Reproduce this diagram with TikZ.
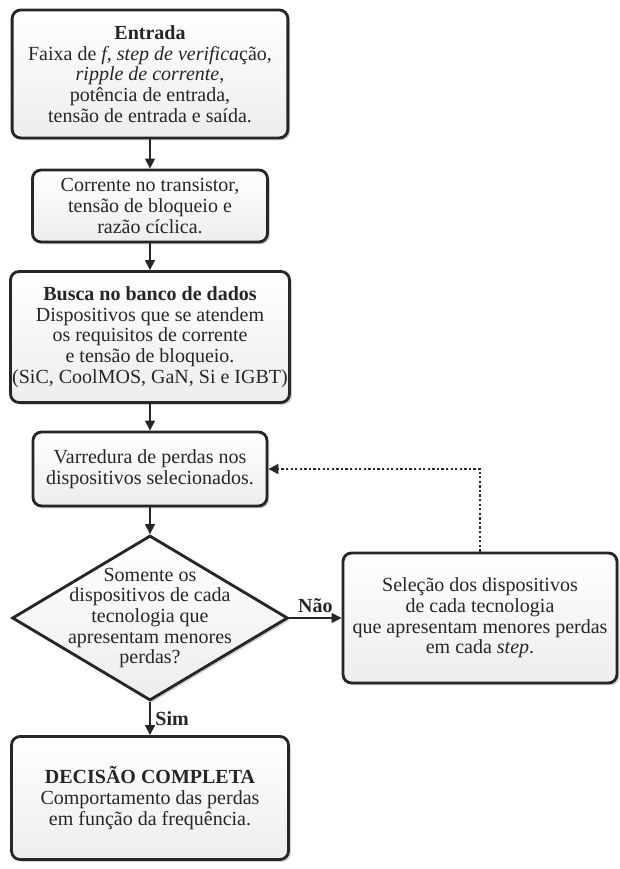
\documentclass[tikz,border=0pt]{standalone}
\usepackage{fontspec}
\setmainfont{Liberation Serif}
\usepackage{xcolor}
\usetikzlibrary{shapes.geometric,arrows.meta,shadows}

\begin{document}
\begin{tikzpicture}[x=0.7pt,y=-0.7pt,
        sombra/.style={drop shadow={shadow xshift=1.6pt,shadow yshift=-1.6pt,opacity=0.35}},
        caixa/.style={draw=black!85,line width=2pt,rounded corners=6pt,top color=white,bottom color=gray!14,sombra,align=center,inner sep=1pt,text=black!85,font=\fontsize{14}{14.5}\selectfont},
        decisao/.style={diamond,draw=black!85,line width=2pt,top color=white,bottom color=gray!14,sombra,minimum width=193pt,minimum height=115.5pt,inner sep=0pt},
        seta/.style={-{Triangle[length=7pt,width=7pt]},line width=1pt,black!85},
        pontilhada/.style={seta,line width=1.3pt,dash pattern=on 1.6pt off 1.6pt},
        rotulo/.style={text=black!85,font=\fontsize{14}{14.5}\selectfont\bfseries}]
        \useasboundingbox (0,0) rectangle (619,869);
        \node[caixa,minimum width=193pt,minimum height=89.6pt] (entrada) at (150,74) {\textbf{Entrada}\\Faixa de \textit{f, step de verifica}ção,\\\textit{ripple de corrente},\\potência de entrada,\\tensão de entrada e saída.};
        \node[caixa,minimum width=164.5pt,minimum height=50.4pt] (corrente) at (150,206) {Corrente no transistor,\\tensão de bloqueio e\\razão cíclica.};
        \node[caixa,minimum width=195.3pt,minimum height=91.7pt] (busca) at (150,337) {\textbf{Busca no banco de dados}\\Dispositivos que se atendem\\os requisitos de corrente\\e tensão de bloqueio.\\(SiC, CoolMOS, GaN, Si e IGBT)};
        \node[caixa,minimum width=163.8pt,minimum height=51.8pt] (varredura) at (150,469) {Varredura de perdas nos\\dispositivos selecionados.};
        \node[decisao] (decisao) at (150,618) {};
        \node[align=center,text=black!85,font=\fontsize{14}{14.5}\selectfont] (pergunta) at (decisao.center) {Somente os\\dispositivos de cada\\tecnologia que\\apresentam menores\\perdas?};
        \node[caixa,minimum width=191.8pt,minimum height=91pt] (selecao) at (480,618) {Seleção dos dispositivos\\de cada tecnologia\\que apresentam menores perdas\\em cada \textit{step}.};
        \node[caixa,minimum width=193.9pt,minimum height=86.1pt] (final) at (150,798) {\textbf{DECISÃO COMPLETA}\\Comportamento das perdas\\em função da frequência.};
        \draw[seta] (entrada) -- (corrente);
        \draw[seta] (corrente) -- (busca);
        \draw[seta] (busca) -- (varredura);
        \draw[seta] (varredura) -- (decisao);
        \draw[seta] (decisao.east) -- node[rotulo,above] (nao) {Não} (selecao.west);
        \draw[seta] (decisao.south) -- node[rotulo,right] (sim) {Sim} (final.north);
        \draw[pontilhada] (selecao.north) |- (varredura.east);
\end{tikzpicture}
\end{document}
